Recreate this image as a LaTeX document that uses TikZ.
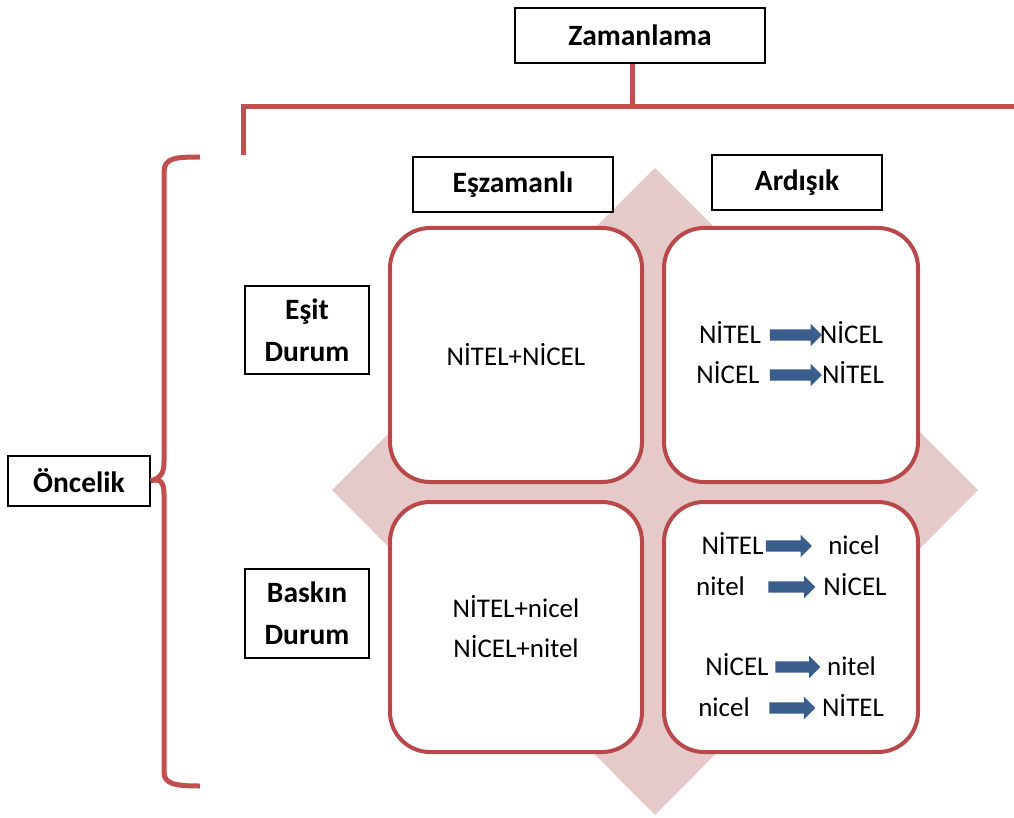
\documentclass[tikz,border=0pt]{standalone}
\usepackage{fontspec}
\setmainfont{Carlito}
\usepackage{tikz}
\usetikzlibrary{shapes, arrows, positioning}
\definecolor{linered}{HTML}{C0504D}
\definecolor{cellred}{HTML}{B9484A}
\definecolor{diampink}{HTML}{E6CACA}
\definecolor{arrblue}{HTML}{3A5E8C}
\tikzstyle{lbl}  = [draw, line width=1.2, fill=white, align=center, font=\bfseries\fontsize{29.5}{42}\selectfont]
\tikzstyle{cell} = [draw=cellred, line width=4, rounded corners=40, fill=white, align=center, font=\fontsize{27}{40}\selectfont]
\tikzstyle{txt}  = [inner sep=0, text height=17, text depth=0, font=\fontsize{27}{40}\selectfont]
\tikzstyle{arr}  = [single arrow, fill=arrblue, inner sep=5.5, single arrow head extend=5.5, single arrow tip angle=90]
\tikzstyle{red}  = [draw=linered, line width=5]

\begin{document}
\begin{tikzpicture}[x=1pt, y=-1pt]
\useasboundingbox (0,0) rectangle (1014,818);

% background
\fill [diampink] (655,168) -- (978,490) -- (655,815) -- (332,490) -- cycle;

% header nodes
\node [lbl, minimum width=250, minimum height=55] at ( 640 ,  35.5 ) (zam)  {Zamanlama};
\node [lbl, minimum width=200, minimum height=55] at ( 513 , 184.5 ) (esz)  {Eşzamanlı};
\node [lbl, minimum width=170, minimum height=55] at ( 797 , 182.5 ) (ard)  {Ardışık};
\node [lbl, minimum width=124, minimum height=88] at ( 307 , 330   ) (esit) {Eşit\\Durum};
\node [lbl, minimum width=124, minimum height=89] at ( 307 , 613.5 ) (bask) {Baskın\\Durum};
\node [lbl, minimum width=142, minimum height=50] at (  79 , 481   ) (onc)  {Öncelik};

% cells
\node [cell, minimum width=252, minimum height=254] at ( 516 , 355 ) (c11) {NİTEL+NİCEL};
\node [cell, minimum width=254, minimum height=254] at ( 791 , 355 ) (c12) {};
\node [cell, minimum width=252, minimum height=250] at ( 516 , 627 ) (c21) {NİTEL+nicel\\NİCEL+nitel};
\node [cell, minimum width=254, minimum height=250] at ( 791 , 627 ) (c22) {};

% ardisik, esit durum
\node [txt]                    at ( 730   , 335 ) (t1a) {NİTEL};
\node [arr, minimum height=52] at ( 793   , 335 ) (t1)  {};
\node [txt]                    at ( 851.5 , 335 ) (t1b) {NİCEL};
\node [txt]                    at ( 728   , 375 ) (t2a) {NİCEL};
\node [arr, minimum height=52] at ( 793   , 375 ) (t2)  {};
\node [txt]                    at ( 853   , 375 ) (t2b) {NİTEL};

% ardisik, baskin durum
\node [txt]                    at ( 732.5 , 546 ) (b1a) {NİTEL};
\node [arr, minimum height=46] at ( 786   , 546 ) (b1)  {};
\node [txt]                    at ( 854   , 546 ) (b1b) {nicel};
\node [txt]                    at ( 720.5 , 587 ) (b2a) {nitel};
\node [arr, minimum height=47] at ( 789   , 587 ) (b2)  {};
\node [txt]                    at ( 855   , 587 ) (b2b) {NİCEL};
\node [txt]                    at ( 737   , 667 ) (b3a) {NİCEL};
\node [arr, minimum height=45] at ( 795   , 667 ) (b3)  {};
\node [txt]                    at ( 851.5 , 667 ) (b3b) {nitel};
\node [txt]                    at ( 724   , 708 ) (b4a) {nicel};
\node [arr, minimum height=46] at ( 789.5 , 708 ) (b4)  {};
\node [txt]                    at ( 853   , 708 ) (b4b) {NİTEL};

% bracket and brace
\coordinate (joint) at ( 632 , 107 );
\coordinate (left)  at ( 243 , 155 );
\coordinate (right) at ( 1016 , 107 );
\coordinate (btop)  at ( 200 , 157 );
\coordinate (bbot)  at ( 200 , 786 );

\draw [red] (zam.south -| joint) -- (joint);
\draw [red] (left) -- (left |- joint) -- (right);
\draw [red] (btop) .. controls (175,157) and (164,158) .. (164,172)
  -- (164,462) .. controls (164,474) and (160,478) .. (onc.east)
  .. controls (160,478) and (164,482) .. (164,494)
  -- (164,772) .. controls (164,784) and (175,786) .. (bbot);

\end{tikzpicture}
\end{document}
